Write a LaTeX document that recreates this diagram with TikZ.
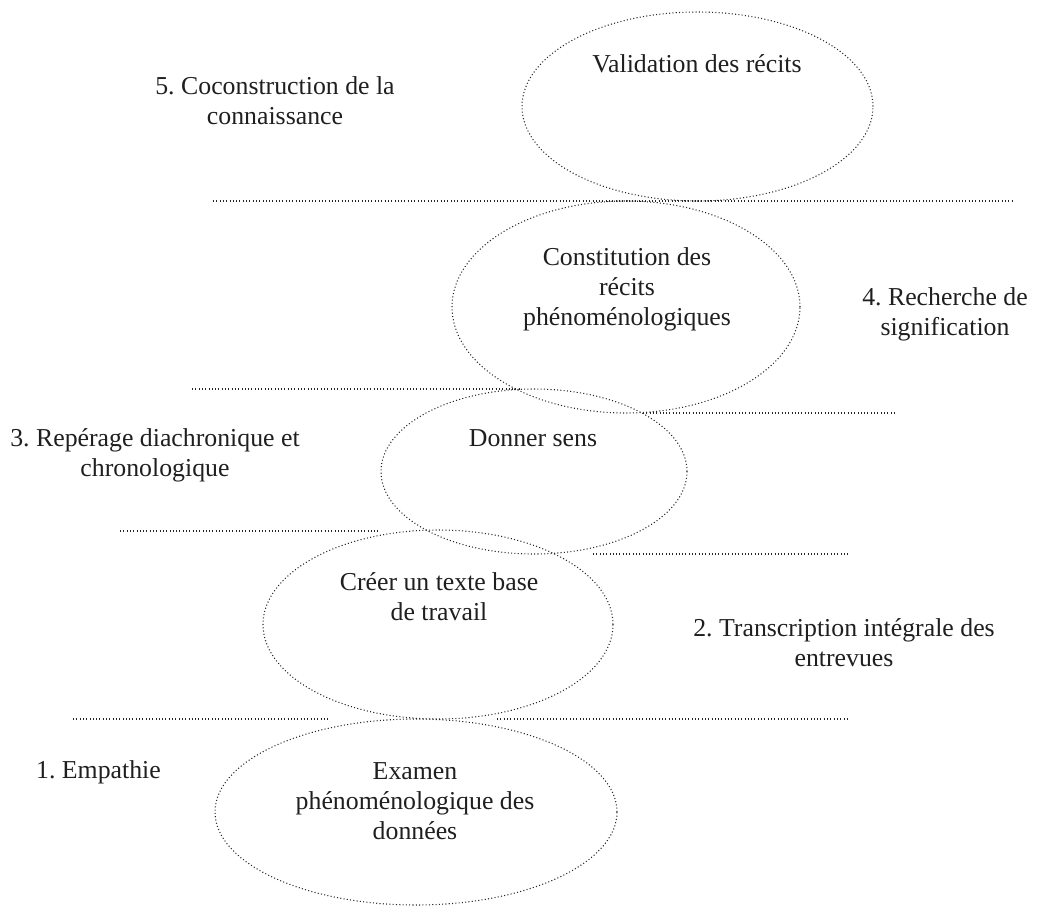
\documentclass[tikz,border=0pt]{standalone}
\usepackage{fontspec}
\setmainfont{Liberation Serif}
\usetikzlibrary{shapes.geometric}
\frenchspacing
\begin{document}
\begin{tikzpicture}[x=1pt,y=-1pt,
  dots/.style={draw=black!85, line width=1.05pt, dash pattern=on 1.05pt off 2.25pt},
  stage/.style={ellipse, dots, inner sep=0pt, outer sep=0pt},
  lbl/.style={font=\fontsize{25.8}{30}\selectfont, align=center, inner sep=0pt, text=black!88}
]
\useasboundingbox (0,0) rectangle (1049,907);

% stage ellipses, bottom to top
\node[stage, minimum width=402pt, minimum height=186pt] (e1) at (416,812) {};
\node[stage, minimum width=350pt, minimum height=189pt] (e2) at (438,624.5) {};
\node[stage, minimum width=306pt, minimum height=165pt] (e3) at (534,471.5) {};
\node[stage, minimum width=348pt, minimum height=212pt] (e4) at (626,307) {};
\node[stage, minimum width=351pt, minimum height=189pt] (e5) at (697.5,106.5) {};

% level separators
\coordinate (s1a) at (213,201);  \coordinate (s1b) at (1013,201);
\coordinate (s2a) at (192,389);  \coordinate (s2b) at (520,389);
\coordinate (s3a) at (643,413);  \coordinate (s3b) at (897,413);
\coordinate (s4a) at (120,531);  \coordinate (s4b) at (380,531);
\coordinate (s5a) at (593,554);  \coordinate (s5b) at (850,554);
\coordinate (s6a) at (73,719);   \coordinate (s6b) at (329,719);
\coordinate (s7a) at (497,719);  \coordinate (s7b) at (850,719);
\foreach \s in {1,...,7}{\draw[dots] (s\s a) -- (s\s b);}

% texts inside the ellipses
\node[lbl] (x5) at (697,66) {\strut Validation des récits};
\node[lbl] (x4) at (627,289) {\strut Constitution des\\\strut récits\\\strut phénoménologiques};
\node[lbl] (x3) at (533,440) {\strut Donner sens};
\node[lbl] (x2) at (439,599.5) {\strut Créer un texte base\\\strut de travail};
\node[lbl] (x1) at (415,803.5) {\strut Examen\\\strut phénoménologique des\\\strut données};

% stage labels
\node[lbl] (l5) at (275,103) {\strut 5. Coconstruction de la\\\strut connaissance};
\node[lbl] (l4) at (945,314) {\strut 4. Recherche de\\\strut signification};
\node[lbl] (l3) at (155,455) {\strut 3. Repérage diachronique et\\\strut chronologique};
\node[lbl] (l2) at (844,645) {\strut 2. Transcription intégrale des\\\strut entrevues};
\node[lbl] (l1) at (98.5,772) {\strut 1. Empathie};
\end{tikzpicture}
\end{document}
